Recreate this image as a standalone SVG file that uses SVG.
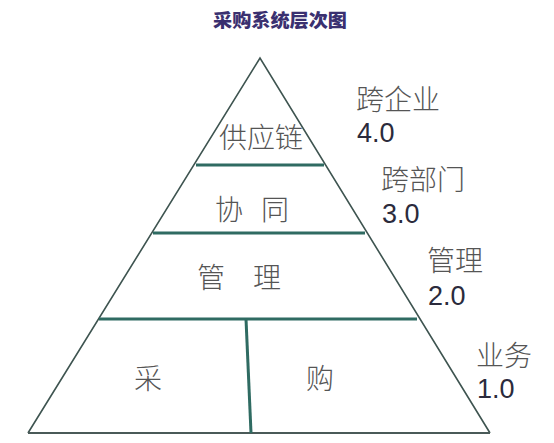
<svg xmlns="http://www.w3.org/2000/svg" width="554" height="443" viewBox="0 0 554 443">
<style>
.outline{fill:none;stroke:#3e5450;stroke-width:1.6;stroke-linejoin:miter}
.div{stroke:#2f6b62;stroke-width:3;fill:none}
.base{stroke:#4a5a58;stroke-width:2;fill:none}
.lbl{font-family:"Noto Sans CJK SC","Noto Sans",sans-serif;font-size:28px;fill:#555;font-weight:300}
.side{font-family:"Noto Sans CJK SC","Noto Sans",sans-serif;font-size:28px;fill:#555;font-weight:300}
.num{font-family:"Liberation Sans",Arial,sans-serif;font-size:27px;fill:#2b2b3c}
.title{font-family:"Noto Sans CJK SC",sans-serif;font-size:18px;font-weight:900;fill:#3a3070}
</style>
<rect width="554" height="443" fill="#ffffff"/>
<text class="title" x="280" y="27" text-anchor="middle" textLength="134" lengthAdjust="spacingAndGlyphs">采购系统层次图</text>
<g id="connectors">
<polyline class="outline" points="28,433 260,58 490,433"/>
<line class="base" x1="28" y1="433" x2="490" y2="433"/>
<line class="div" x1="196" y1="165" x2="324" y2="165"/>
<line class="div" x1="153" y1="233" x2="365" y2="233"/>
<line class="div" x1="99" y1="319" x2="417" y2="319"/>
<line class="div" x1="246" y1="319" x2="251" y2="433"/>
</g>
<g id="node-supplychain"><text class="lbl" x="261" y="148" text-anchor="middle">供应链</text></g>
<g id="node-collab"><text class="lbl" x="252" y="220" text-anchor="middle" word-spacing="12">协 同</text></g>
<g id="node-manage"><text class="lbl" x="239" y="288" text-anchor="middle" word-spacing="22">管 理</text></g>
<g id="node-cai"><text class="lbl" x="148" y="389" text-anchor="middle">采</text></g>
<g id="node-gou"><text class="lbl" x="320" y="389" text-anchor="middle">购</text></g>
<g id="level-4"><text class="side" x="356" y="110">跨企业</text><text class="num" x="357" y="142">4.0</text></g>
<g id="level-3"><text class="side" x="381" y="190">跨部门</text><text class="num" x="382" y="223">3.0</text></g>
<g id="level-2"><text class="side" x="427" y="271">管理</text><text class="num" x="428" y="305">2.0</text></g>
<g id="level-1"><text class="side" x="476" y="366">业务</text><text class="num" x="477" y="398">1.0</text></g>
</svg>
